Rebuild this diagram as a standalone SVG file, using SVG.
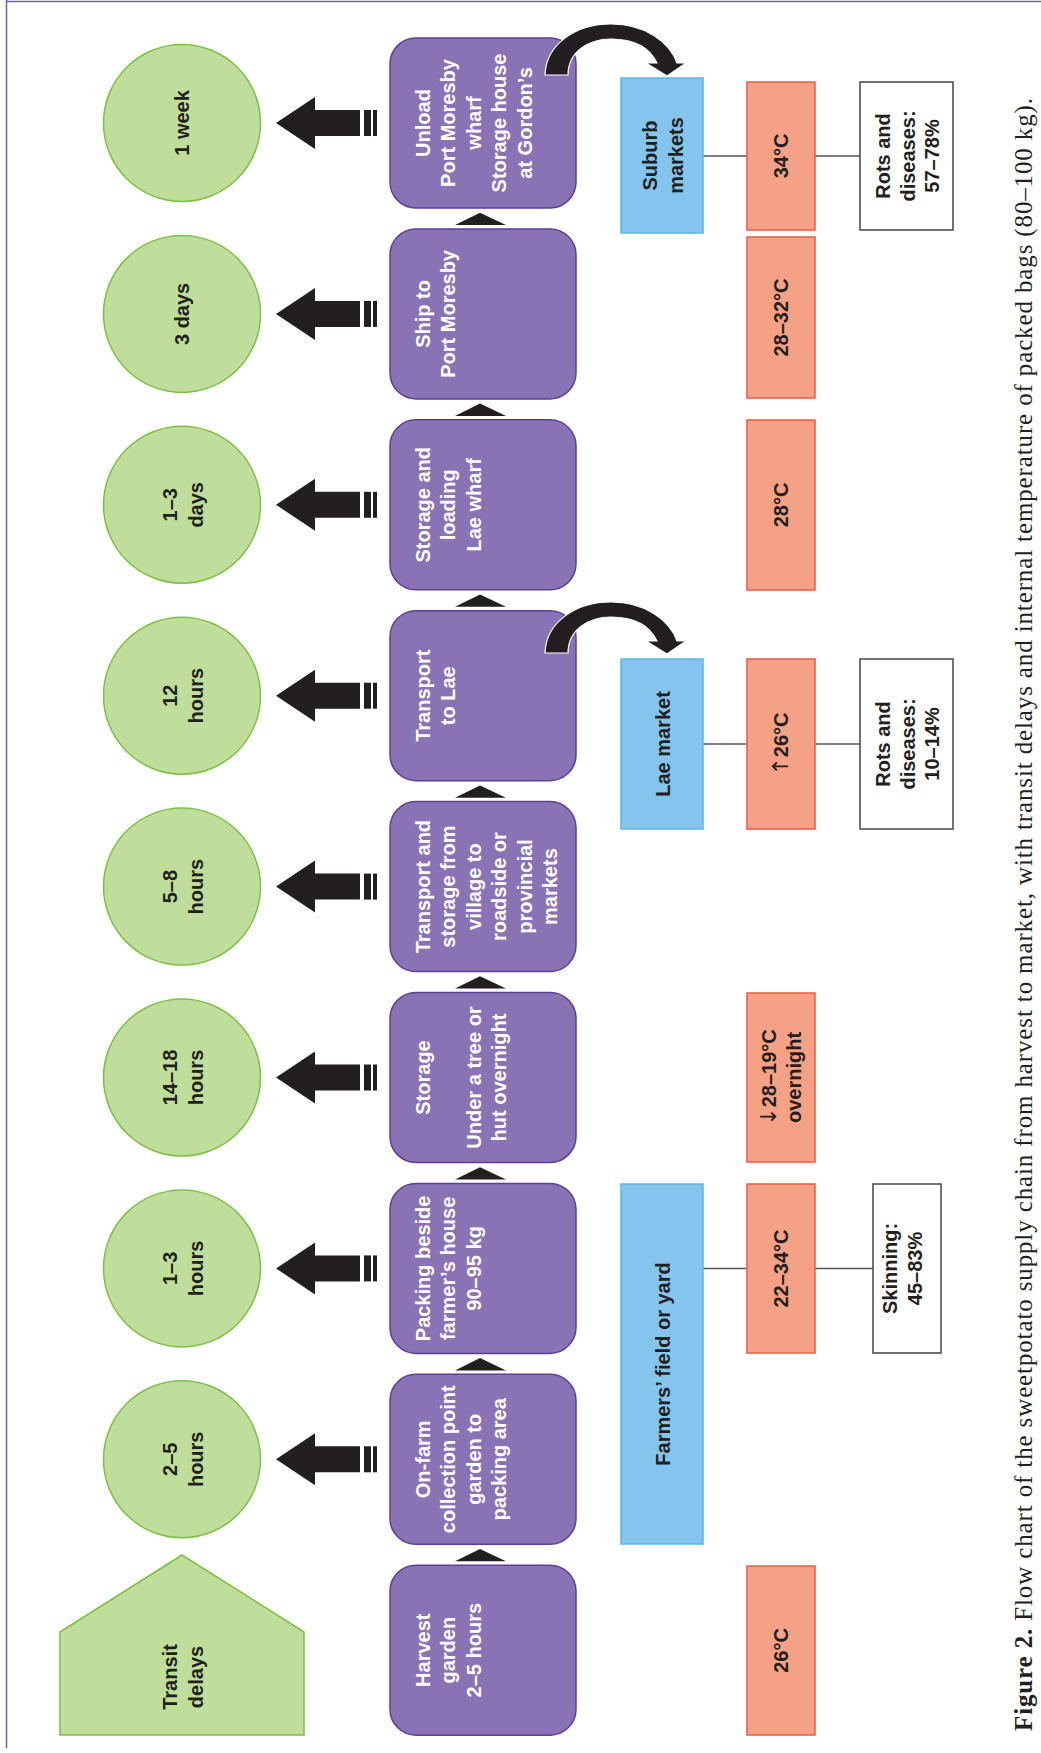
<svg xmlns="http://www.w3.org/2000/svg" xmlns:xlink="http://www.w3.org/1999/xlink" width="1041" height="1753" viewBox="0 0 1041 1753">
<style>
.t{font-family:"Liberation Sans",Arial,sans-serif;font-weight:bold;font-size:20px;text-anchor:middle}
.w{fill:#ffffff}
.k{fill:#231f20}
.proc{fill:#8a73b4;stroke:#5c3f99;stroke-width:1.5}
.delay{fill:#bfde9b;stroke:#7cc142;stroke-width:1.5}
.loc{fill:#84c4ed;stroke:#5cb6e6;stroke-width:1.5}
.temp{fill:#f5a185;stroke:#ee5844;stroke-width:1.5}
.loss{fill:#ffffff;stroke:#444444;stroke-width:1.5}
.ln{stroke:#555555;stroke-width:1.5;fill:none}
.blk{fill:#231f20}
.ar{font-family:"DejaVu Sans",sans-serif;font-weight:normal;font-size:22px}
.cap{font-family:"Liberation Serif","Times New Roman",serif;font-size:25px;fill:#231f20}
</style>
<defs>
<g id="bigarrow">
<polygon points="276,0 315,-26 315,-13 360,-13 360,13 315,13 315,26" class="blk"/>
<rect x="364" y="-13" width="7" height="26" class="blk"/>
<rect x="373" y="-13" width="4" height="26" class="blk"/>
</g>
<polygon id="tri" points="480,4.7 506,17 455,17" class="blk"/>
<path id="curve" d="M545,75 C546,44 576,24 611,24 C645,24 670,42 677,63 L686,63 L667,76 L646,63 L657,63 C650,48 635,39 611,39 C588,39 568,52 568,75 Z" class="blk" stroke="#ffffff" stroke-width="1.2"/>
</defs>

<g id="frame">
<line x1="6" y1="1.5" x2="1041" y2="1.5" stroke="#6b5fae" stroke-width="1.5"/>
<line x1="6.5" y1="0" x2="6.5" y2="1748" stroke="#6b5fae" stroke-width="1.5"/>
</g>

<g id="connectors">
<use xlink:href="#bigarrow" transform="translate(0,123)"/>
<use xlink:href="#bigarrow" transform="translate(0,313.9)"/>
<use xlink:href="#bigarrow" transform="translate(0,504.8)"/>
<use xlink:href="#bigarrow" transform="translate(0,695.7)"/>
<use xlink:href="#bigarrow" transform="translate(0,886.6)"/>
<use xlink:href="#bigarrow" transform="translate(0,1077.5)"/>
<use xlink:href="#bigarrow" transform="translate(0,1268.4)"/>
<use xlink:href="#bigarrow" transform="translate(0,1459.3)"/>
<use xlink:href="#tri" transform="translate(0,208)"/>
<use xlink:href="#tri" transform="translate(0,398.9)"/>
<use xlink:href="#tri" transform="translate(0,589.8)"/>
<use xlink:href="#tri" transform="translate(0,780.7)"/>
<use xlink:href="#tri" transform="translate(0,971.6)"/>
<use xlink:href="#tri" transform="translate(0,1162.5)"/>
<use xlink:href="#tri" transform="translate(0,1353.4)"/>
<use xlink:href="#tri" transform="translate(0,1544.3)"/>
<line x1="703" y1="156" x2="747" y2="156" class="ln"/>
<line x1="815" y1="156" x2="860" y2="156" class="ln"/>
<line x1="703" y1="744" x2="747" y2="744" class="ln"/>
<line x1="815" y1="744" x2="860" y2="744" class="ln"/>
<line x1="703" y1="1268.5" x2="747" y2="1268.5" class="ln"/>
<line x1="815" y1="1268.5" x2="873" y2="1268.5" class="ln"/>
</g>

<g id="transit-delays">
<polygon points="182,1555 304,1632 304,1735 60,1735 60,1632" class="delay"/>
<text class="t k" transform="translate(0,1677) rotate(-90)"><tspan x="0" y="177">Transit</tspan><tspan x="0" y="202.5">delays</tspan></text>
</g>

<g id="delay-1week"><circle cx="182" cy="123" r="78.5" class="delay"/>
<text class="t k" transform="translate(0,123) rotate(-90)"><tspan x="0" y="189">1 week</tspan></text></g>
<g id="delay-3days"><circle cx="182" cy="313.9" r="78.5" class="delay"/>
<text class="t k" transform="translate(0,313.9) rotate(-90)"><tspan x="0" y="189">3 days</tspan></text></g>
<g id="delay-1-3days"><circle cx="182" cy="504.8" r="78.5" class="delay"/>
<text class="t k" transform="translate(0,504.8) rotate(-90)"><tspan x="0" y="177">1–3</tspan><tspan x="0" y="202.5">days</tspan></text></g>
<g id="delay-12hours"><circle cx="182" cy="695.7" r="78.5" class="delay"/>
<text class="t k" transform="translate(0,695.7) rotate(-90)"><tspan x="0" y="177">12</tspan><tspan x="0" y="202.5">hours</tspan></text></g>
<g id="delay-5-8hours"><circle cx="182" cy="886.6" r="78.5" class="delay"/>
<text class="t k" transform="translate(0,886.6) rotate(-90)"><tspan x="0" y="177">5–8</tspan><tspan x="0" y="202.5">hours</tspan></text></g>
<g id="delay-14-18hours"><circle cx="182" cy="1077.5" r="78.5" class="delay"/>
<text class="t k" transform="translate(0,1077.5) rotate(-90)"><tspan x="0" y="177">14–18</tspan><tspan x="0" y="202.5">hours</tspan></text></g>
<g id="delay-1-3hours"><circle cx="182" cy="1268.4" r="78.5" class="delay"/>
<text class="t k" transform="translate(0,1268.4) rotate(-90)"><tspan x="0" y="177">1–3</tspan><tspan x="0" y="202.5">hours</tspan></text></g>
<g id="delay-2-5hours"><circle cx="182" cy="1459.3" r="78.5" class="delay"/>
<text class="t k" transform="translate(0,1459.3) rotate(-90)"><tspan x="0" y="177">2–5</tspan><tspan x="0" y="202.5">hours</tspan></text></g>

<g id="step-unload"><rect x="390" y="38" width="186" height="170" rx="26" class="proc"/>
<text class="t w" transform="translate(0,123) rotate(-90)"><tspan x="0" y="430">Unload</tspan><tspan x="0" y="455.4">Port Moresby</tspan><tspan x="0" y="480.8">wharf</tspan><tspan x="0" y="506.2">Storage house</tspan><tspan x="0" y="531.6">at Gordon’s</tspan></text></g>
<g id="step-ship"><rect x="390" y="228.9" width="186" height="170" rx="26" class="proc"/>
<text class="t w" transform="translate(0,313.9) rotate(-90)"><tspan x="0" y="430">Ship to</tspan><tspan x="0" y="455.4">Port Moresby</tspan></text></g>
<g id="step-storage-lae"><rect x="390" y="419.8" width="186" height="170" rx="26" class="proc"/>
<text class="t w" transform="translate(0,504.8) rotate(-90)"><tspan x="0" y="430">Storage and</tspan><tspan x="0" y="455.4">loading</tspan><tspan x="0" y="480.8">Lae wharf</tspan></text></g>
<g id="step-transport-lae"><rect x="390" y="610.7" width="186" height="170" rx="26" class="proc"/>
<text class="t w" transform="translate(0,695.7) rotate(-90)"><tspan x="0" y="430">Transport</tspan><tspan x="0" y="455.4">to Lae</tspan></text></g>
<g id="step-transport-storage"><rect x="390" y="801.6" width="186" height="170" rx="26" class="proc"/>
<text class="t w" transform="translate(0,886.6) rotate(-90)"><tspan x="0" y="430">Transport and</tspan><tspan x="0" y="455.4">storage from</tspan><tspan x="0" y="480.8">village to</tspan><tspan x="0" y="506.2">roadside or</tspan><tspan x="0" y="531.6">provincial</tspan><tspan x="0" y="557">markets</tspan></text></g>
<g id="step-storage"><rect x="390" y="992.5" width="186" height="170" rx="26" class="proc"/>
<text class="t w" transform="translate(0,1077.5) rotate(-90)"><tspan x="0" y="430">Storage</tspan><tspan x="0" y="480.8">Under a tree or</tspan><tspan x="0" y="506.2">hut overnight</tspan></text></g>
<g id="step-packing"><rect x="390" y="1183.4" width="186" height="170" rx="26" class="proc"/>
<text class="t w" transform="translate(0,1268.4) rotate(-90)"><tspan x="0" y="430">Packing beside</tspan><tspan x="0" y="455.4">farmer’s house</tspan><tspan x="0" y="480.8">90–95 kg</tspan></text></g>
<g id="step-onfarm"><rect x="390" y="1374.3" width="186" height="170" rx="26" class="proc"/>
<text class="t w" transform="translate(0,1459.3) rotate(-90)"><tspan x="0" y="430">On-farm</tspan><tspan x="0" y="455.4">collection point</tspan><tspan x="0" y="480.8">garden to</tspan><tspan x="0" y="506.2">packing area</tspan></text></g>
<g id="step-harvest"><rect x="390" y="1565.2" width="186" height="170" rx="26" class="proc"/>
<text class="t w" transform="translate(0,1650.2) rotate(-90)"><tspan x="0" y="430">Harvest</tspan><tspan x="0" y="455.4">garden</tspan><tspan x="0" y="480.8">2–5 hours</tspan></text></g>

<g id="curved-arrows">
<use xlink:href="#curve"/>
<use xlink:href="#curve" transform="translate(0,578)"/>
</g>

<g id="loc-suburb"><rect x="621" y="78" width="82" height="155" class="loc"/>
<text class="t k" transform="translate(0,155.5) rotate(-90)"><tspan x="0" y="657">Suburb</tspan><tspan x="0" y="682.5">markets</tspan></text></g>
<g id="loc-lae"><rect x="621" y="659" width="82" height="170" class="loc"/>
<text class="t k" transform="translate(0,744) rotate(-90)"><tspan x="0" y="670">Lae market</tspan></text></g>
<g id="loc-farmers"><rect x="621" y="1184" width="82" height="360" class="loc"/>
<text class="t k" transform="translate(0,1364) rotate(-90)"><tspan x="0" y="670">Farmers’ field or yard</tspan></text></g>

<g id="temp-34"><rect x="747" y="82" width="68" height="148" class="temp"/>
<text class="t k" transform="translate(0,156) rotate(-90)"><tspan x="0" y="788">34°C</tspan></text></g>
<g id="temp-28-32"><rect x="747" y="237" width="68" height="161" class="temp"/>
<text class="t k" transform="translate(0,317.5) rotate(-90)"><tspan x="0" y="788">28–32°C</tspan></text></g>
<g id="temp-28"><rect x="747" y="420" width="68" height="170" class="temp"/>
<text class="t k" transform="translate(0,505) rotate(-90)"><tspan x="0" y="788">28°C</tspan></text></g>
<g id="temp-26-lae"><rect x="747" y="659" width="68" height="170" class="temp"/>
<text class="t k" transform="translate(0,744) rotate(-90)"><tspan x="0" y="788"><tspan class="ar">↑</tspan>26°C</tspan></text></g>
<g id="temp-28-19"><rect x="747" y="993" width="68" height="169" class="temp"/>
<text class="t k" transform="translate(0,1077.5) rotate(-90)"><tspan x="0" y="776"><tspan class="ar">↓</tspan>28–19°C</tspan><tspan x="0" y="801">overnight</tspan></text></g>
<g id="temp-22-34"><rect x="747" y="1184" width="68" height="169" class="temp"/>
<text class="t k" transform="translate(0,1268.5) rotate(-90)"><tspan x="0" y="788">22–34°C</tspan></text></g>
<g id="temp-26"><rect x="747" y="1566" width="68" height="169" class="temp"/>
<text class="t k" transform="translate(0,1650.5) rotate(-90)"><tspan x="0" y="788">26°C</tspan></text></g>

<g id="loss-suburb"><rect x="860" y="82" width="93" height="148" class="loss"/>
<text class="t k" transform="translate(0,156) rotate(-90)"><tspan x="0" y="890">Rots and</tspan><tspan x="0" y="914.5">diseases:</tspan><tspan x="0" y="939">57–78%</tspan></text></g>
<g id="loss-lae"><rect x="860" y="659" width="93" height="170" class="loss"/>
<text class="t k" transform="translate(0,744) rotate(-90)"><tspan x="0" y="890">Rots and</tspan><tspan x="0" y="914.5">diseases:</tspan><tspan x="0" y="939">10–14%</tspan></text></g>
<g id="loss-skinning"><rect x="873" y="1184" width="68" height="169" class="loss"/>
<text class="t k" transform="translate(0,1268.5) rotate(-90)"><tspan x="0" y="897">Skinning:</tspan><tspan x="0" y="922">45–83%</tspan></text></g>

<g id="caption">
<text class="cap" transform="translate(1032,1731) rotate(-90)" textLength="1633" lengthAdjust="spacing"><tspan font-weight="bold">Figure 2.</tspan>  Flow chart of the sweetpotato supply chain from harvest to market, with transit delays and internal temperature of packed bags (80–100 kg).</text>
</g>
</svg>
